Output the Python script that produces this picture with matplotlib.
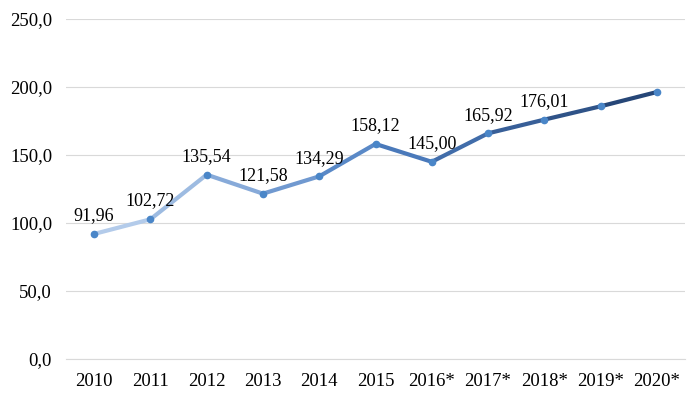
import matplotlib
matplotlib.use("Agg")
import matplotlib.pyplot as plt
import numpy as np
from matplotlib.colors import LinearSegmentedColormap

years = ["2010", "2011", "2012", "2013", "2014", "2015",
         "2016*", "2017*", "2018*", "2019*", "2020*"]
values = [91.96, 102.72, 135.54, 121.58, 134.29, 158.12,
          145.00, 165.92, 176.01, 185.8, 196.3]
labels = ["91,96", "102,72", "135,54", "121,58", "134,29", "158,12",
          "145,00", "165,92", "176,01", "", ""]

plt.rcParams['font.family'] = ['Liberation Serif', 'DejaVu Serif']

fig = plt.figure(figsize=(6.92, 3.95), dpi=100)
ax = fig.add_axes([66 / 692, 1 - 359 / 395, 619 / 692, 340 / 395])

x = np.arange(len(years))

# gradient line: light blue to navy
cmap = LinearSegmentedColormap.from_list("grad", ["#b3cbea", "#4f80c3", "#264677"])
n = len(x) - 1
for i in range(n):
    ax.plot(x[i:i + 2], values[i:i + 2], color=cmap(i / (n - 1)), lw=3,
            solid_capstyle='round', zorder=2)

ax.plot(x, values, 'o', color="#4a86c8", markersize=4.5, zorder=3)

for xi, v, lab in zip(x, values, labels):
    if lab:
        ax.annotate(lab, (xi, v), xytext=(0, 7), textcoords='offset points',
                    ha='center', va='bottom', fontsize=13)

ax.set_xlim(-0.5, len(years) - 0.5)
ax.set_ylim(0, 250)
ax.set_yticks(np.arange(0, 251, 50))
ax.set_yticklabels([f"{t:.1f}".replace(".", ",") for t in np.arange(0, 251, 50)])
ax.set_xticks(x)
ax.set_xticklabels(years)
ax.tick_params(length=0, labelsize=13.5)
ax.tick_params(axis='x', pad=10)
ax.tick_params(axis='y', pad=10)

ax.grid(axis='y', color='#d9d9d9', lw=0.8)
ax.set_axisbelow(True)
for s in ['top', 'right', 'left']:
    ax.spines[s].set_visible(False)
ax.spines['bottom'].set_color('#d9d9d9')

fig.savefig("out.png", dpi=100)
